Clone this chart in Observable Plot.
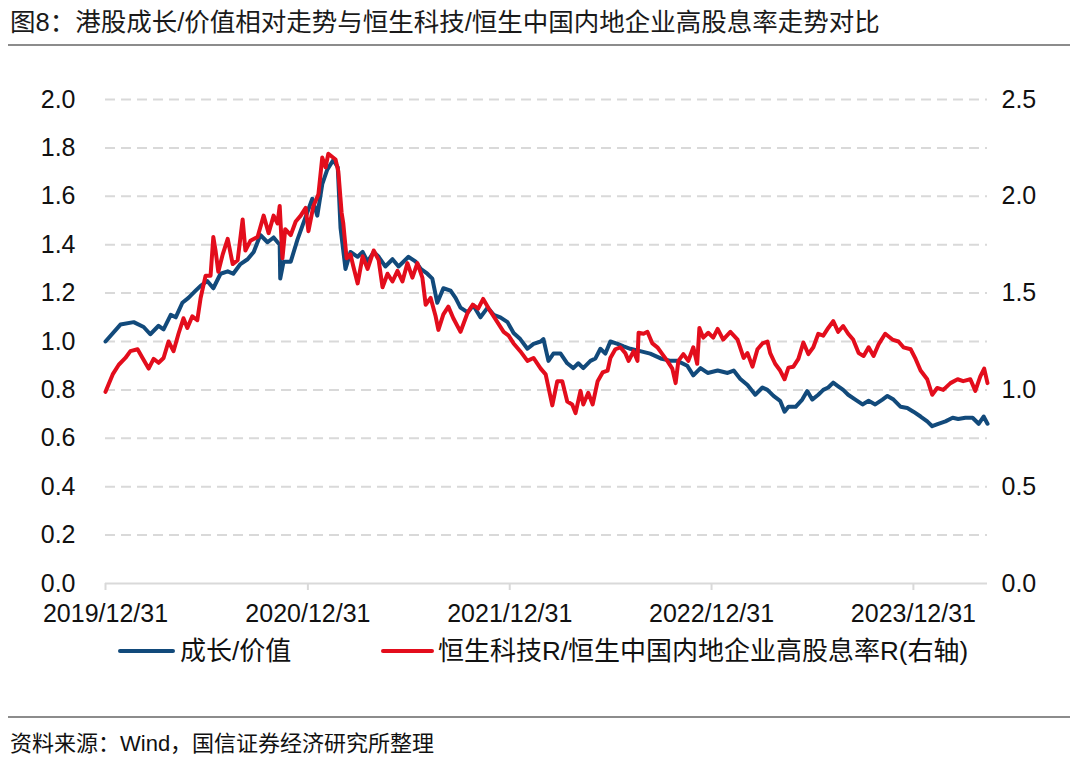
<!DOCTYPE html>
<html>
<head>
<meta charset="utf-8">
<script src="https://cdn.jsdelivr.net/npm/d3@7"></script>
<script src="https://cdn.jsdelivr.net/npm/@observablehq/plot@0.6"></script>
<style>
  html, body { margin: 0; padding: 0; background: #fff; }
  #wrap { position: relative; width: 1080px; height: 760px; overflow: hidden;
    font-family: "Liberation Sans", "Noto Sans CJK SC", sans-serif; color: #111; }
  #chart { position: absolute; left: 0; top: 0; }
  .abs { position: absolute; white-space: nowrap; }
  #title { left: 10px; top: 6px; font-size: 25.5px; line-height: 32px; color: #1a1a1a; }
  .rule { position: absolute; left: 8px; width: 1062px; height: 2px; background: #8c8c8c; }
  .legline { position: absolute; height: 4px; border-radius: 2px; }
  .legtext { position: absolute; font-size: 26px; line-height: 30px; color: #111; }
  #source { left: 10px; top: 730px; font-size: 22px; line-height: 28px; color: #111; }
</style>
</head>
<body>
<div id="wrap">
  <div id="chart"></div>
  <div id="title" class="abs"></div>
  <div class="rule" style="top:44px"></div>
  <div class="legline" style="left:118px; width:57px; top:649px; background:#124a7b"></div>
  <div id="leg1" class="legtext" style="left:180px; top:636px"></div>
  <div class="legline" style="left:381px; width:53px; top:649px; background:#e30d1c"></div>
  <div id="leg2" class="legtext" style="left:438px; top:636px"></div>
  <div class="rule" style="top:716px; height:1.5px"></div>
  <div id="source" class="abs"></div>
</div>
<script>
const titleText = "图8：港股成长/价值相对走势与恒生科技/恒生中国内地企业高股息率走势对比";
const sourceText = "资料来源：Wind，国信证券经济研究所整理";
const seriesNames = ["成长/价值", "恒生科技R/恒生中国内地企业高股息率R(右轴)"];

const xTickDates = ["2019-12-31", "2020-12-31", "2021-12-31", "2022-12-31", "2023-12-31"];
const xTickLabels = ["2019/12/31", "2020/12/31", "2021/12/31", "2022/12/31", "2023/12/31"];
const xDomain = ["2019-12-31", "2024-05-13"];
const leftTicks = [0, 0.2, 0.4, 0.6, 0.8, 1.0, 1.2, 1.4, 1.6, 1.8, 2.0];
const rightTicks = [0, 0.5, 1.0, 1.5, 2.0, 2.5];

// 成长/价值 (left axis)
const blueDates = [
"2019-12-31","2020-01-27","2020-02-20","2020-03-09","2020-03-21","2020-04-05","2020-04-14","2020-04-27","2020-05-06","2020-05-18",
"2020-05-29","2020-06-11","2020-06-20","2020-07-02","2020-07-13","2020-07-26","2020-08-08","2020-08-18","2020-08-31","2020-09-13",
"2020-09-24","2020-10-06","2020-10-19","2020-10-30","2020-11-10","2020-11-11","2020-11-17","2020-11-30","2020-12-12","2020-12-23",
"2021-01-08","2021-01-17","2021-01-26","2021-02-04","2021-02-15","2021-02-23","2021-02-28","2021-03-09","2021-03-18","2021-03-31",
"2021-04-09","2021-04-18","2021-04-29","2021-05-08","2021-05-20","2021-06-02","2021-06-13","2021-07-01","2021-07-14","2021-07-23",
"2021-08-04","2021-08-13","2021-08-22","2021-09-02","2021-09-15","2021-09-24","2021-10-03","2021-10-16","2021-10-26","2021-11-08",
"2021-11-21","2021-12-02","2021-12-14","2021-12-27","2022-01-07","2022-01-19","2022-02-01","2022-02-12","2022-02-25","2022-03-02",
"2022-03-11","2022-03-20","2022-04-02","2022-04-14","2022-04-25","2022-05-04","2022-05-13","2022-05-26","2022-06-04","2022-06-13",
"2022-06-22","2022-07-01","2022-07-14","2022-07-25","2022-08-06","2022-08-24","2022-09-11","2022-09-30","2022-10-18","2022-10-30",
"2022-11-17","2022-11-28","2022-12-11","2022-12-24","2023-01-11","2023-01-29","2023-02-09","2023-02-21","2023-03-06","2023-03-20",
"2023-04-02","2023-04-11","2023-04-22","2023-05-04","2023-05-12","2023-05-19","2023-06-01","2023-06-13","2023-06-22","2023-07-01",
"2023-07-12","2023-07-21","2023-07-30","2023-08-08","2023-08-17","2023-08-26","2023-09-04","2023-09-17","2023-09-30","2023-10-11",
"2023-10-23","2023-11-05","2023-11-14","2023-11-25","2023-12-08","2023-12-20","2023-12-31","2024-01-13","2024-01-25","2024-02-03",
"2024-02-14","2024-02-27","2024-03-11","2024-03-21","2024-04-03","2024-04-16","2024-04-27","2024-05-06","2024-05-13"];
const blueValues = [
1.00,1.07,1.08,1.06,1.03,1.065,1.05,1.11,1.10,1.16,
1.18,1.21,1.23,1.25,1.22,1.28,1.29,1.28,1.32,1.34,
1.37,1.44,1.41,1.43,1.40,1.26,1.33,1.33,1.42,1.49,
1.59,1.52,1.65,1.71,1.75,1.72,1.47,1.30,1.37,1.35,
1.37,1.33,1.37,1.35,1.31,1.34,1.31,1.35,1.33,1.30,
1.28,1.26,1.16,1.22,1.21,1.18,1.14,1.12,1.15,1.10,
1.14,1.11,1.10,1.08,1.035,1.01,0.97,0.99,1.00,1.01,
0.92,0.95,0.95,0.91,0.89,0.91,0.89,0.92,0.93,0.97,
0.95,1.00,0.99,0.98,0.97,0.96,0.95,0.93,0.92,0.92,
0.90,0.86,0.89,0.87,0.88,0.87,0.88,0.845,0.82,0.78,
0.81,0.80,0.775,0.755,0.71,0.73,0.73,0.76,0.795,0.76,
0.78,0.80,0.81,0.83,0.815,0.80,0.78,0.76,0.74,0.755,
0.74,0.76,0.775,0.76,0.73,0.725,0.71,0.69,0.67,0.65,
0.66,0.67,0.685,0.68,0.685,0.685,0.66,0.69,0.66];

// 恒生科技R/恒生中国内地企业高股息率R (right axis)
const redDates = [
"2019-12-31","2020-01-13","2020-01-24","2020-02-05","2020-02-14","2020-02-27","2020-03-07","2020-03-18","2020-03-27","2020-04-05",
"2020-04-14","2020-04-23","2020-05-02","2020-05-11","2020-05-20","2020-05-27","2020-06-05","2020-06-14","2020-06-20","2020-06-29",
"2020-07-08","2020-07-13","2020-07-17","2020-07-22","2020-07-30","2020-08-08","2020-08-17","2020-08-26","2020-09-04","2020-09-09",
"2020-09-18","2020-10-01","2020-10-12","2020-10-21","2020-10-30","2020-11-06","2020-11-10","2020-11-15","2020-11-20","2020-11-30",
"2020-12-09","2020-12-18","2020-12-27","2021-01-01","2021-01-10","2021-01-19","2021-01-26","2021-02-01","2021-02-06","2021-02-19",
"2021-02-24","2021-03-02","2021-03-05","2021-03-11","2021-03-18","2021-03-23","2021-03-31","2021-04-09","2021-04-18","2021-04-29",
"2021-05-08","2021-05-15","2021-05-24","2021-06-02","2021-06-11","2021-06-20","2021-06-29","2021-07-08","2021-07-17","2021-07-26",
"2021-08-01","2021-08-10","2021-08-19","2021-08-24","2021-09-02","2021-09-11","2021-09-20","2021-10-03","2021-10-16","2021-10-25",
"2021-11-04","2021-11-13","2021-11-23","2021-12-02","2021-12-11","2021-12-20","2021-12-29","2022-01-07","2022-01-19","2022-02-01",
"2022-02-12","2022-02-25","2022-03-06","2022-03-18","2022-03-27","2022-04-05","2022-04-14","2022-04-23","2022-04-29","2022-05-08",
"2022-05-13","2022-05-22","2022-05-30","2022-06-08","2022-06-17","2022-06-26","2022-07-01","2022-07-10","2022-07-19","2022-07-28",
"2022-08-03","2022-08-12","2022-08-19","2022-08-21","2022-08-30","2022-09-06","2022-09-15","2022-09-24","2022-10-03","2022-10-12",
"2022-10-21","2022-10-27","2022-11-01","2022-11-10","2022-11-19","2022-11-28","2022-12-05","2022-12-09","2022-12-16","2022-12-25",
"2023-01-03","2023-01-11","2023-01-21","2023-02-03","2023-02-16","2023-02-27","2023-03-06","2023-03-15","2023-03-24","2023-04-02",
"2023-04-11","2023-04-16","2023-04-25","2023-05-04","2023-05-12","2023-05-19","2023-05-28","2023-06-06","2023-06-15","2023-06-24",
"2023-07-03","2023-07-12","2023-07-21","2023-07-30","2023-08-08","2023-08-17","2023-08-26","2023-09-04","2023-09-13","2023-09-23",
"2023-10-02","2023-10-11","2023-10-20","2023-10-29","2023-11-10","2023-11-23","2023-12-04","2023-12-13","2023-12-26","2024-01-04",
"2024-01-13","2024-01-25","2024-02-03","2024-02-12","2024-02-23","2024-03-07","2024-03-20","2024-03-30","2024-04-12","2024-04-21",
"2024-04-30","2024-05-07","2024-05-13"];
const redValues = [
0.99,1.08,1.13,1.165,1.20,1.21,1.165,1.11,1.16,1.14,
1.165,1.25,1.20,1.29,1.37,1.32,1.38,1.36,1.475,1.59,
1.59,1.79,1.72,1.61,1.70,1.78,1.65,1.67,1.88,1.72,
1.77,1.79,1.90,1.81,1.90,1.86,1.95,1.68,1.83,1.80,
1.87,1.90,1.94,1.82,1.95,2.01,2.20,2.15,2.22,2.19,
2.13,1.915,1.86,1.68,1.70,1.64,1.55,1.69,1.625,1.72,
1.67,1.53,1.60,1.56,1.615,1.56,1.655,1.58,1.655,1.58,
1.44,1.475,1.38,1.31,1.39,1.43,1.37,1.30,1.40,1.44,
1.42,1.47,1.42,1.38,1.34,1.30,1.28,1.24,1.20,1.15,
1.165,1.11,1.08,0.92,1.045,1.045,0.94,0.925,0.88,0.995,
0.925,0.985,0.925,1.045,1.09,1.10,1.165,1.21,1.22,1.19,
1.15,1.20,1.15,1.295,1.29,1.30,1.24,1.22,1.185,1.15,
1.11,1.035,1.15,1.185,1.15,1.22,1.135,1.32,1.27,1.295,
1.27,1.315,1.26,1.30,1.26,1.165,1.19,1.12,1.21,1.24,
1.25,1.19,1.135,1.10,1.055,1.115,1.12,1.16,1.245,1.185,
1.22,1.29,1.28,1.32,1.355,1.30,1.33,1.29,1.26,1.19,
1.175,1.22,1.175,1.235,1.29,1.26,1.25,1.22,1.21,1.16,
1.10,1.055,0.975,1.01,1.00,1.035,1.055,1.045,1.055,0.995,
1.07,1.11,1.035];

const blueColor = "#124a7b";
const redColor = "#e30d1c";
const gridColor = "#d9d9d9";
const ratio = leftTicks[leftTicks.length - 1] / rightTicks[rightTicks.length - 1]; // right -> left scale

const parse = d3.utcParse("%Y-%m-%d");
const blue = blueDates.map((d, i) => ({date: parse(d), v: blueValues[i]}));
const red = redDates.map((d, i) => ({date: parse(d), v: redValues[i]}));
const tickDates = xTickDates.map(parse);
const labelOf = d => xTickLabels[tickDates.findIndex(t => +t === +d)];

document.getElementById("title").textContent = titleText;
document.getElementById("source").textContent = sourceText;
document.getElementById("leg1").textContent = seriesNames[0];
document.getElementById("leg2").textContent = seriesNames[1];

const chart = Plot.plot({
  width: 1080,
  height: 630,
  marginTop: 99,
  marginBottom: 47,
  marginLeft: 105,
  marginRight: 93,
  style: {fontFamily: '"Liberation Sans", "Noto Sans CJK SC", sans-serif', fontSize: "25px", color: "#111", background: "transparent", overflow: "visible"},
  x: {type: "utc", domain: xDomain.map(parse)},
  y: {domain: [0, 2]},
  marks: [
    Plot.ruleY(leftTicks.filter(t => t > 0), {stroke: gridColor, strokeWidth: 2, strokeDasharray: "10,6"}),
    Plot.ruleY([0], {stroke: gridColor, strokeWidth: 2}),
    Plot.axisX({ticks: tickDates, tickFormat: labelOf, tickSize: 7, tickPadding: 14, stroke: gridColor, strokeWidth: 2, fill: "#111", strokeOpacity: 1, label: null}),
    Plot.axisY({anchor: "left", ticks: leftTicks, tickSize: 0, tickPadding: 30, tickFormat: d => d.toFixed(1), fill: "#111", label: null}),
    Plot.axisY({anchor: "right", ticks: rightTicks.map(t => t * ratio), tickSize: 0, tickPadding: 14, tickFormat: d => (d / ratio).toFixed(1), fill: "#111", label: null}),
    Plot.lineY(blue, {x: "date", y: "v", stroke: blueColor, strokeWidth: 4, strokeLinejoin: "round"}),
    Plot.lineY(red, {x: "date", y: d => d.v * ratio, stroke: redColor, strokeWidth: 4, strokeLinejoin: "round"})
  ]
});
document.getElementById("chart").appendChild(chart);
</script>
</body>
</html>
